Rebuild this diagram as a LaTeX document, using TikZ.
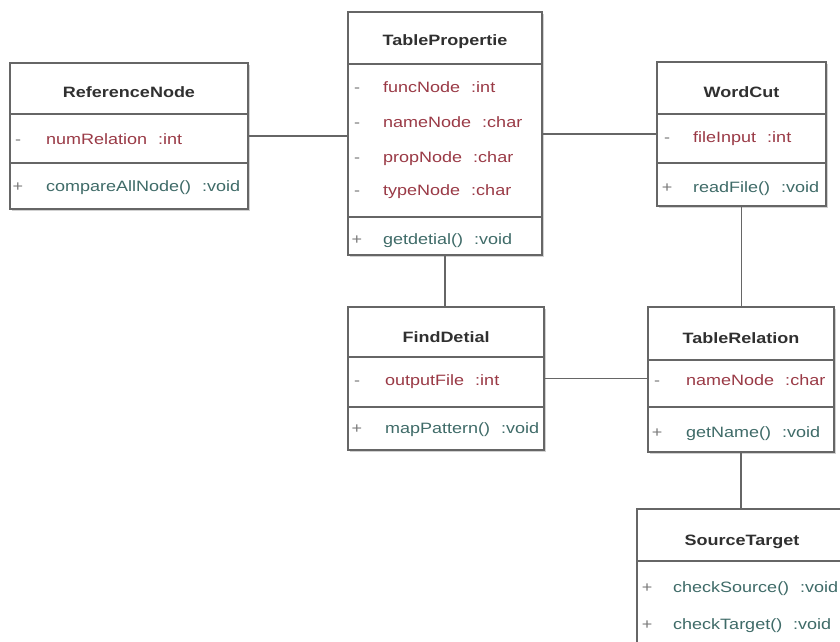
\documentclass[tikz,border=0pt]{standalone}
\usepackage{fontspec}
\setmainfont{Liberation Sans}[FakeStretch=1.2]
\usetikzlibrary{shadows}
\definecolor{edgegray}{HTML}{666666}
\definecolor{titlecol}{HTML}{303030}
\definecolor{attrcol}{HTML}{9A3A46}
\definecolor{opcol}{HTML}{3F6B68}
\definecolor{viscol}{HTML}{7A7A7A}
\tikzset{
  classbox/.style={draw=edgegray, line width=1.4pt, fill=white, inner sep=0pt,
    drop shadow={shadow xshift=1.5pt, shadow yshift=-1.5pt, fill=black!30, opacity=0.6}},
  divider/.style={draw=edgegray, line width=1.4pt},
  link/.style={draw=edgegray, line width=1.4pt},
  classtitle/.style={anchor=base, inner sep=0pt, text=titlecol, font=\fontsize{15}{18}\selectfont\bfseries},
  attrtext/.style={anchor=base west, inner sep=0pt, text=attrcol, font=\fontsize{15}{18}\selectfont},
  optext/.style={anchor=base west, inner sep=0pt, text=opcol, font=\fontsize{15}{18}\selectfont},
  vistext/.style={anchor=base, inner sep=0pt, text=viscol, font=\fontsize{15}{18}\selectfont},
}
\newcommand\typegap{\hspace{11pt}}
\begin{document}
\begin{tikzpicture}[x=1pt,y=-1pt]
\useasboundingbox (0,0) rectangle (840,641);
\begin{scope}
\clip (0,0) rectangle (840,641);

% ---- class frames ----
\node[classbox, minimum width=238pt, minimum height=146pt] (ref) at (129,136) {};
\node[classbox, minimum width=194pt, minimum height=243pt] (tp) at (445,133.5) {};
\node[classbox, minimum width=169pt, minimum height=144pt] (wc) at (741.5,134) {};
\node[classbox, minimum width=196pt, minimum height=143pt] (fd) at (446,378.5) {};
\node[classbox, minimum width=186pt, minimum height=145pt] (tr) at (741,379.5) {};
\node[classbox, minimum width=210pt, minimum height=151pt] (st) at (742,584.5) {};

% ---- compartment dividers ----
\draw[divider] (ref.west |- 0,114) -- (ref.east |- 0,114);
\draw[divider] (ref.west |- 0,163) -- (ref.east |- 0,163);
\draw[divider] (tp.west |- 0,64) -- (tp.east |- 0,64);
\draw[divider] (tp.west |- 0,217) -- (tp.east |- 0,217);
\draw[divider] (wc.west |- 0,114) -- (wc.east |- 0,114);
\draw[divider] (wc.west |- 0,163) -- (wc.east |- 0,163);
\draw[divider] (fd.west |- 0,357) -- (fd.east |- 0,357);
\draw[divider] (fd.west |- 0,407) -- (fd.east |- 0,407);
\draw[divider] (tr.west |- 0,360) -- (tr.east |- 0,360);
\draw[divider] (tr.west |- 0,407) -- (tr.east |- 0,407);
\draw[divider] (st.west |- 0,561) -- (st.east |- 0,561);

% ---- associations ----
\draw[link] (ref.east) -- (tp.west |- ref.east);
\draw[link] (tp.east |- wc.west) -- (wc.west);
\draw[link] (tp.south) -- (tp.south |- fd.north);
\draw[link] (wc.south) -- (wc.south |- tr.north);
\draw[link] (fd.east) -- (tr.west |- fd.east);
\draw[link] (tr.south) -- (tr.south |- st.north);

% ---- ReferenceNode ----
\node[classtitle] (refT) at (129,97) {ReferenceNode};
\node[vistext] (refV1) at (18,144) {-};
\node[attrtext] (refA1) at (46,144) {numRelation\typegap:int};
\node[vistext] (refV2) at (18,191) {+};
\node[optext] (refO1) at (46,191) {compareAllNode()\typegap:void};

% ---- TablePropertie ----
\node[classtitle] (tpT) at (445,45) {TablePropertie};
\node[vistext] (tpV1) at (357,92) {-};
\node[attrtext] (tpA1) at (383,92) {funcNode\typegap:int};
\node[vistext] (tpV2) at (357,127) {-};
\node[attrtext] (tpA2) at (383,127) {nameNode\typegap:char};
\node[vistext] (tpV3) at (357,162) {-};
\node[attrtext] (tpA3) at (383,162) {propNode\typegap:char};
\node[vistext] (tpV4) at (357,195) {-};
\node[attrtext] (tpA4) at (383,195) {typeNode\typegap:char};
\node[vistext] (tpV5) at (357,244) {+};
\node[optext] (tpO1) at (383,244) {getdetial()\typegap:void};

% ---- WordCut ----
\node[classtitle] (wcT) at (741.5,97) {WordCut};
\node[vistext] (wcV1) at (667,142) {-};
\node[attrtext] (wcA1) at (693,142) {fileInput\typegap:int};
\node[vistext] (wcV2) at (667,192) {+};
\node[optext] (wcO1) at (693,192) {readFile()\typegap:void};

% ---- FindDetial ----
\node[classtitle] (fdT) at (446,342) {FindDetial};
\node[vistext] (fdV1) at (357,385) {-};
\node[attrtext] (fdA1) at (385,385) {outputFile\typegap:int};
\node[vistext] (fdV2) at (357,433) {+};
\node[optext] (fdO1) at (385,433) {mapPattern()\typegap:void};

% ---- TableRelation ----
\node[classtitle] (trT) at (741,343) {TableRelation};
\node[vistext] (trV1) at (657,385) {-};
\node[attrtext] (trA1) at (686,385) {nameNode\typegap:char};
\node[vistext] (trV2) at (657,437) {+};
\node[optext] (trO1) at (686,437) {getName()\typegap:void};

% ---- SourceTarget ----
\node[classtitle] (stT) at (742,545) {SourceTarget};
\node[vistext] (stV1) at (647,592) {+};
\node[optext] (stO1) at (673,592) {checkSource()\typegap:void};
\node[vistext] (stV2) at (647,629) {+};
\node[optext] (stO2) at (673,629) {checkTarget()\typegap:void};
\end{scope}
\end{tikzpicture}
\end{document}
